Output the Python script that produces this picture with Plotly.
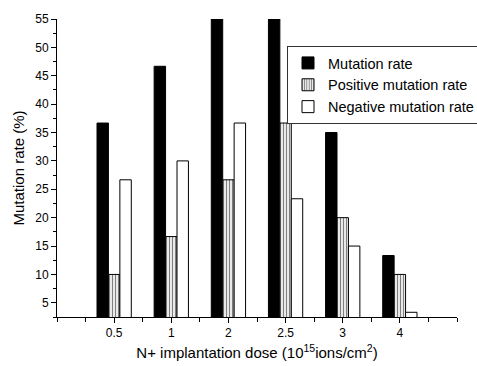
import plotly.graph_objects as go

doses = ["0.5", "1", "2", "2.5", "3", "4"]
mutation_rate = [36.67, 46.67, 55.0, 55.0, 35.0, 13.33]
positive_rate = [10.0, 16.67, 26.67, 36.67, 20.0, 10.0]
negative_rate = [26.67, 30.0, 36.67, 23.33, 15.0, 3.33]

pos = list(range(1, len(doses) + 1))

FONT = "Liberation Sans, Arial, sans-serif"

fig = go.Figure()
fig.add_trace(go.Bar(x=pos, y=mutation_rate, name="Mutation rate",
                     marker=dict(color="black", line=dict(color="black", width=1))))
fig.add_trace(go.Bar(x=pos, y=positive_rate, name="Positive mutation rate",
                     marker=dict(color="white", line=dict(color="black", width=1),
                                 pattern=dict(shape="|", fgcolor="black", bgcolor="white",
                                              size=3, solidity=0.45))))
fig.add_trace(go.Bar(x=pos, y=negative_rate, name="Negative mutation rate",
                     marker=dict(color="white", line=dict(color="black", width=1))))

fig.update_layout(
    width=477, height=366,
    margin=dict(l=57, r=20, t=19, b=49, autoexpand=False),
    paper_bgcolor="white", plot_bgcolor="white",
    barmode="group", bargap=0.4, bargroupgap=0,
    font=dict(family=FONT, color="black", size=12),
    showlegend=True,
    legend=dict(xref="container", yref="container",
                x=287 / 477, y=1 - 46 / 366, xanchor="left", yanchor="top",
                bordercolor="#333", borderwidth=1, bgcolor="white",
                font=dict(size=14.5, family=FONT), tracegroupgap=0,
                itemwidth=30),
    xaxis=dict(range=[0, len(doses) + 1], tickmode="array", tickvals=pos,
               ticktext=doses, ticks="outside", ticklen=5, tickcolor="black",
               showline=True, linecolor="black", linewidth=1, showgrid=False,
               zeroline=False, tickfont=dict(size=12), automargin=False,
               minor=dict(ticks="outside", ticklen=4, dtick=0.5, tick0=0,
                          tickcolor="black", showgrid=False),
               title=dict(text="N+ implantation dose (10<sup>15</sup>ions/cm<sup>2</sup>)",
                          font=dict(size=15), standoff=8)),
    yaxis=dict(range=[2.5, 55], tick0=0, dtick=5, ticks="outside", ticklen=5,
               tickcolor="black", showline=True, linecolor="black", linewidth=1,
               showgrid=False, zeroline=False, tickfont=dict(size=12), automargin=False,
               minor=dict(ticks="outside", ticklen=3, dtick=2.5, tick0=0,
                          tickcolor="black", showgrid=False),
               title=dict(text="Mutation rate (%)", font=dict(size=15), standoff=6)),
)

fig.write_html("out.html")
